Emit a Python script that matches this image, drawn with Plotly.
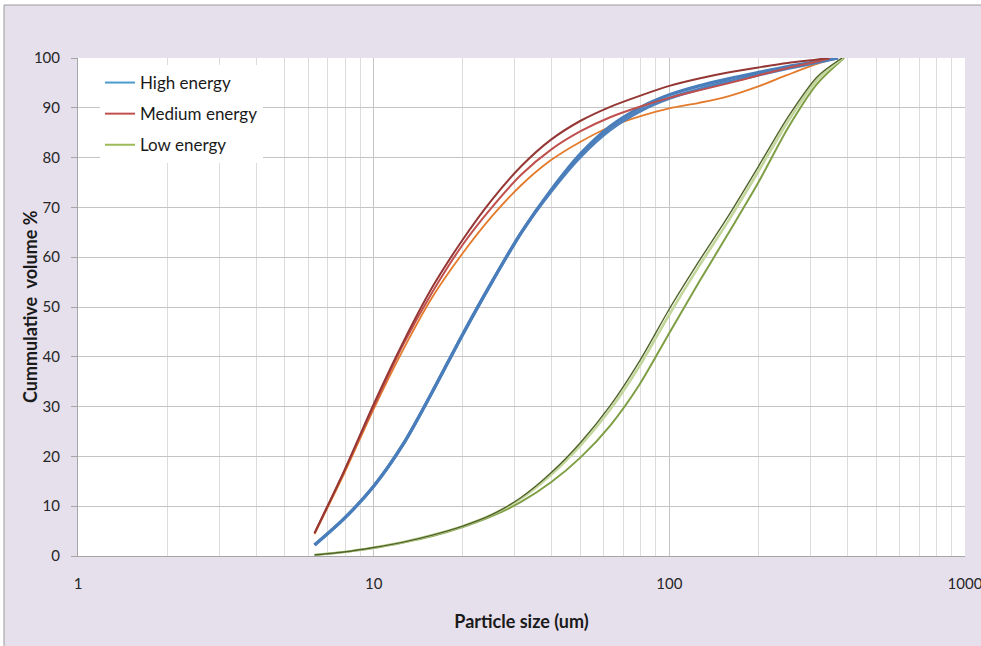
import plotly.graph_objects as go

# Particle size (um) vs cumulative volume (%) for three milling energies.
# Sizes are sampled every tenth of a decade.
SIZE_UM = [6.31, 7.94, 10, 12.6, 15.8, 20, 25.1, 31.6, 39.8, 50.1, 63.1, 79.4, 100, 126, 158, 200, 251, 316]

HIGH_A_X = SIZE_UM + [372]
HIGH_A_Y = [2.2, 7.5, 14, 22.5, 33, 44.5, 55, 65, 73.5, 80.8, 86.3, 90.0, 92.6, 94.4, 95.8, 97.1, 98.3, 99.3, 100]
HIGH_B_X = SIZE_UM + [372]
HIGH_B_Y = [2.2, 7.5, 14, 22.5, 33, 44.5, 55, 65, 73.2, 80.2, 85.6, 89.3, 91.9, 93.7, 95.2, 96.6, 97.9, 99.1, 100]

MED_A_X = SIZE_UM + [347]
MED_A_Y = [4.6, 17, 30.5, 43, 54, 63.5, 71.5, 78.3, 83.6, 87.4, 90.2, 92.4, 94.4, 95.9, 97.1, 98.1, 99.0, 99.7, 100]
MED_B_X = SIZE_UM + [350]
MED_B_Y = [4.6, 17, 30, 42.5, 53, 62.5, 70, 76.6, 81.6, 85.3, 88.1, 90.2, 92.0, 93.5, 94.9, 96.5, 98.0, 99.3, 100]
MED_C_X = SIZE_UM + [372]
MED_C_Y = [4.4, 16.5, 29.5, 41.5, 52, 60.8, 68.2, 74.5, 79.5, 83.2, 86.2, 88.3, 89.9, 91.0, 92.3, 94.3, 96.6, 98.8, 100]

LOW_A_X = SIZE_UM + [384]
LOW_A_Y = [0.2, 0.8, 1.7, 2.8, 4.2, 6.0, 8.3, 11.8, 16.7, 22.8, 30.2, 39.2, 49.6, 59.2, 68.2, 78.2, 88.0, 96.2, 100]
LOW_B_X = SIZE_UM + [386]
LOW_B_Y = [0.2, 0.8, 1.7, 2.8, 4.2, 6.0, 8.3, 11.6, 16.3, 22.2, 29.4, 38.2, 48.5, 58.2, 67.2, 77.2, 87.1, 95.6, 100]
LOW_C_X = SIZE_UM + [390]
LOW_C_Y = [0.2, 0.8, 1.6, 2.7, 4.0, 5.8, 8.0, 10.9, 14.8, 19.8, 26.2, 34.5, 44.8, 55.0, 64.7, 75.0, 85.8, 94.8, 100]

LEGEND_NAMES = ["High energy", "Medium energy", "Low energy"]
LEGEND_COLORS = ["#4a9bcb", "#c0504d", "#9bbb59"]

X_TICKS = [1, 10, 100, 1000]
X_TICK_TEXT = ["1", "10", "100", "1000"]
X_MINOR = [m * d for d in (1, 10, 100) for m in range(2, 10)]
Y_TICKS = list(range(0, 101, 10))

FONT = "Lato, 'Noto Sans', sans-serif"

fig = go.Figure()

# legend entries
for i, (name, col) in enumerate(zip(LEGEND_NAMES, LEGEND_COLORS)):
    fig.add_trace(go.Scatter(x=[None], y=[None], mode="lines", name=name,
                             legendgroup=f"g{i}", line=dict(color=col, width=2)))

curves = [
    (LOW_C_X, LOW_C_Y, "#7f9f45", 2.0),
    (LOW_B_X, LOW_B_Y, "#c3d69b", 2.6),
    (LOW_A_X, LOW_A_Y, "#4f6228", 1.4),
    (MED_C_X, MED_C_Y, "#e47b2c", 1.8),
    (HIGH_B_X, HIGH_B_Y, "#4f81bd", 3.2),
    (HIGH_A_X, HIGH_A_Y, "#4a7ebb", 3.2),
    (MED_B_X, MED_B_Y, "#c0504d", 2.0),
    (MED_A_X, MED_A_Y, "#953735", 2.0),
]
for xs, ys, col, w in curves:
    fig.add_trace(go.Scatter(x=xs, y=ys, mode="lines", showlegend=False,
                             line=dict(color=col, width=w, shape="spline", smoothing=0.8),
                             hoverinfo="skip"))

L, R, T, B = 78, 16, 58, 90
W, H = 981, 646
pw, ph = W - L - R, H - T - B

def px_x(p):
    return (p - L) / pw

def px_y(p):
    return (H - B - p) / ph

fig.update_layout(
    width=W, height=H, autosize=False,
    margin=dict(l=L, r=R, t=T, b=B),
    paper_bgcolor="white", plot_bgcolor="rgba(0,0,0,0)",
    font=dict(family=FONT, color="#262626"),
    shapes=[
        dict(type="rect", xref="paper", yref="paper", layer="below",
             x0=px_x(4), x1=px_x(1010), y0=px_y(700), y1=px_y(5),
             fillcolor="#e6e0ec", line=dict(color="#9a9a9a", width=1)),
        dict(type="rect", xref="x domain", yref="y domain", layer="below",
             x0=0, x1=1, y0=0, y1=1, fillcolor="white", line=dict(width=0)),
    ],
    annotations=[
        dict(text="<b>Cummulative\u00a0 volume %</b>", xref="paper", yref="paper",
             x=px_x(30), y=0.5, xanchor="center", yanchor="middle", textangle=-90,
             showarrow=False, font=dict(size=18, family=FONT, color="#1a1a1a")),
    ],
    legend=dict(x=px_x(100), y=px_y(65), xanchor="left", yanchor="top",
                bgcolor="white", borderwidth=0, font=dict(size=17, family=FONT, color="#1a1a1a"),
                traceorder="grouped", tracegroupgap=6, itemwidth=30),
    xaxis=dict(type="log", range=[0, 3], tickvals=X_TICKS, ticktext=X_TICK_TEXT,
               showgrid=True, gridcolor="#c4c4c4", gridwidth=1,
               minor=dict(tickvals=X_MINOR, showgrid=True, gridcolor="#dcdcdc", ticks=""),
               showline=True, linecolor="#a6a6a6", ticks="", zeroline=False,
               tickfont=dict(size=15, color="#262626"), ticklabelstandoff=14,
               ticklabeloverflow="allow", automargin=False,
               title=dict(text="<b>Particle size (um)</b>", font=dict(size=18, color="#1a1a1a"), standoff=24)),
    yaxis=dict(range=[0, 100], tickvals=Y_TICKS, showgrid=True, gridcolor="#c4c4c4",
               showline=True, linecolor="#a6a6a6", ticks="outside", ticklen=6, tickcolor="#a6a6a6",
               zeroline=False, tickfont=dict(size=15, color="#262626"), ticklabelstandoff=8,
               automargin=False),
)

fig.write_html("out.html")
